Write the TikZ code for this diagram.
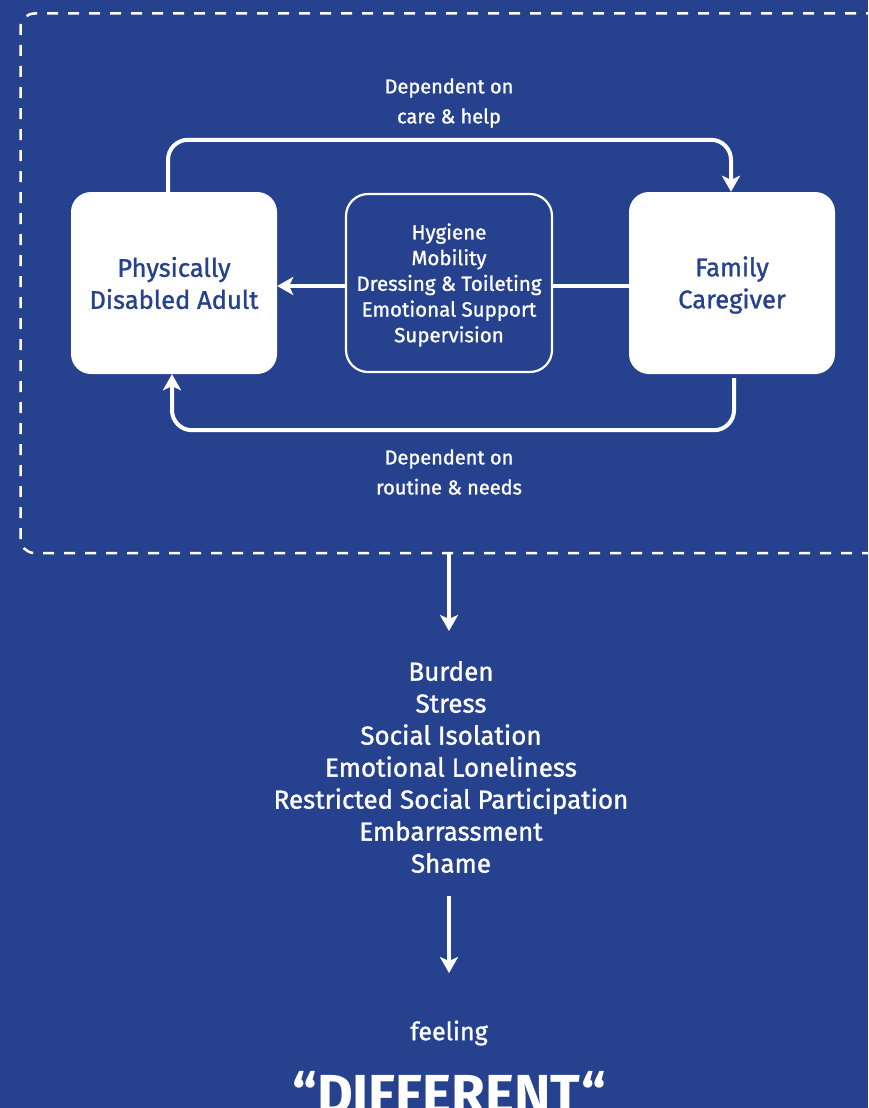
\documentclass[tikz,border=0pt]{standalone}
\usepackage{fontspec}
\setmainfont{Fira Sans}[FakeBold=1.2]
\newfontfamily\boldface{Fira Sans Bold}
\usetikzlibrary{arrows.meta}
\definecolor{bg}{HTML}{26418E}
\begin{document}
\begin{tikzpicture}[x=1pt,y=-1pt,
  whitebox/.style={draw=none, fill=white, rounded corners=20pt, minimum width=206pt, minimum height=182pt, text=bg, font=\fontsize{25.5}{32}\selectfont, align=center, inner sep=0pt},
  midbox/.style={draw=white, line width=2.2pt, fill=bg, rounded corners=22pt, minimum width=206pt, minimum height=178pt, text=white, font=\fontsize{20.5}{25.7}\selectfont, align=center, inner sep=0pt},
  conn/.style={draw=white, line width=4pt, rounded corners=20pt},
  tip/.style={-{Stealth[length=16pt,width=18pt,inset=4pt]}},
  lbl/.style={text=white, font=\fontsize{20}{30}\selectfont, align=center, inner sep=0pt},
  listlbl/.style={text=white, font=\fontsize{26}{32}\selectfont, align=center, inner sep=0pt},
  dashbox/.style={draw=white, line width=2.5pt, dash pattern=on 11pt off 10pt, rounded corners=14pt}
]
\useasboundingbox (0,0) rectangle (868,1108);
\fill[bg] (0,0) rectangle (868,1108);

\draw[dashbox] (20.5,553) -- (20.5,13.5) -- (900,13.5) -- (900,553) -- cycle;

\node[whitebox] (pda) at (174,283) {Physically\\Disabled Adult};
\node[whitebox] (fc) at (732,283) {\rule{0pt}{24pt}Family\\Caregiver};
\node[midbox] (mid) at (449,283) {\rule{0pt}{20pt}Hygiene\\Mobility\\Dressing \& Toileting\\Emotional Support\\Supervision};

\draw[conn,tip] ([xshift=-6pt]pda.north) -- ++(0,-52) -| ([xshift=-1pt]fc.north);
\draw[conn,tip] ([xshift=2pt,yshift=-4pt]fc.south) -- ++(0,52) -| ([xshift=-2pt]pda.south);

\draw[conn] ([yshift=-3pt]fc.west) -- ([yshift=-3pt]mid.east);
\draw[conn,tip] ([yshift=-3pt]mid.west) -- ([yshift=-3pt]pda.east);

\node[lbl] (l1) at (449,103) {Dependent on\\care \& help};
\node[lbl] (l2) at (449,472) {Dependent on\\routine \& needs};

\coordinate (d1) at (449,553);
\coordinate (d2) at (449,631);
\draw[conn,tip] (d1) -- (d2);

\node[listlbl] (list) at (451,767) {Burden\\Stress\\Social Isolation\\Emotional Loneliness\\Restricted Social Participation\\Embarrassment\\Shame};

\coordinate (d3) at (449,896);
\coordinate (d4) at (449,973);
\draw[conn,tip] (d3) -- (d4);

\node[text=white, font=\fontsize{25}{28}\selectfont, inner sep=0pt] (feel) at (449,1033) {feeling};
\node[text=white, font=\fontsize{55}{60}\boldface, inner sep=0pt, anchor=base] (diff) at (449,1113) {“DIFFERENT“};
\end{tikzpicture}
\end{document}
